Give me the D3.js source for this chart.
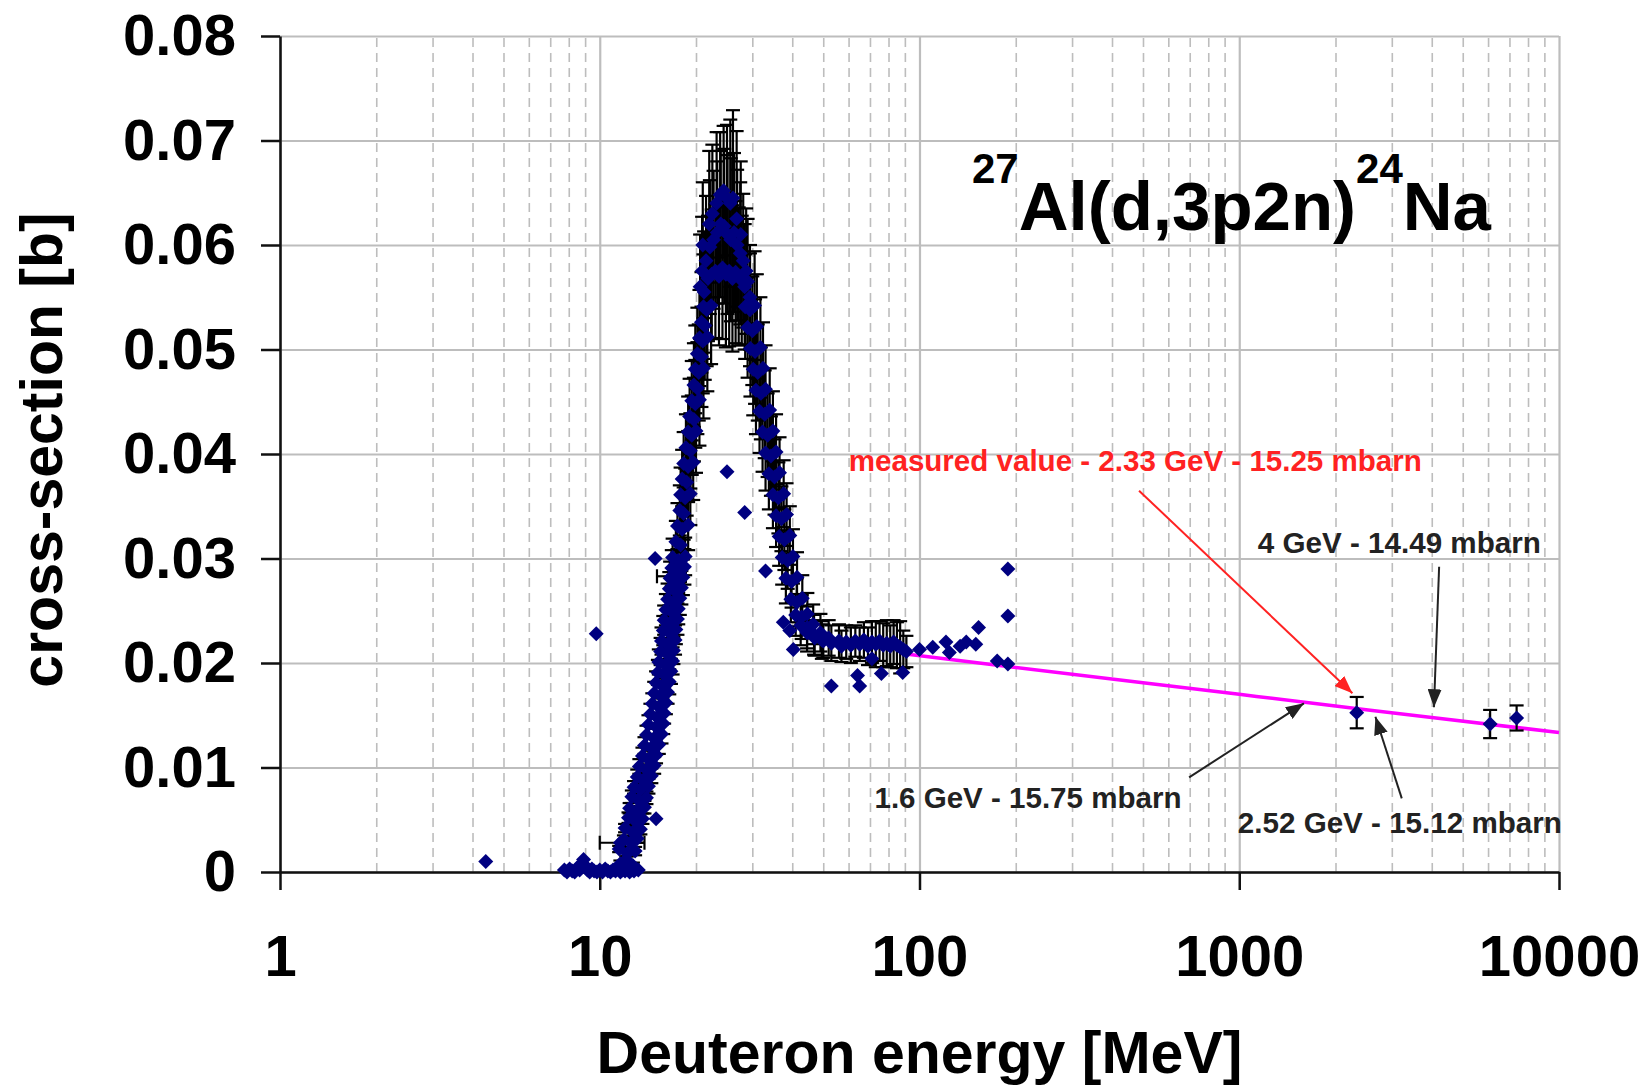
<!DOCTYPE html>
<html>
<head>
<meta charset="utf-8">
<script src="https://cdn.jsdelivr.net/npm/d3@7"></script>
<style>
  body { margin: 0; background: #fff; }
  svg { display: block; font-family: "Liberation Sans", Arial, sans-serif; }
</style>
</head>
<body>
<div id="chart"></div>
<script>
// tick labels
var xTicks = [1, 10, 100, 1000, 10000];
var yTicks = [0, 0.01, 0.02, 0.03, 0.04, 0.05, 0.06, 0.07, 0.08];

// measured points with vertical error: [energy MeV, cross-section b, error b]
var pointsErr = [
    [11.6, .0008, .0003], [12.1, .0012, .0003], [12.7, .0006, .0003],
    [11.5, .0022, .0003], [12.2, .0018, .0003], [12.9, .0020, .0004],
    [11.9, .0031, .0004], [12.5, .0028, .0004], [13.1, .0032, .0004],
    [12.0, .0042, .0004], [12.7, .0038, .0004], [13.4, .0041, .0005],
    [12.3, .0052, .0005], [12.9, .0049, .0005], [13.6, .0051, .0005],
    [12.4, .0061, .0005], [13.0, .0058, .0005], [13.8, .0062, .0006],
    [12.6, .0072, .0006], [13.2, .0069, .0006], [14.0, .0071, .0006],
    [12.8, .0081, .0006], [13.4, .0079, .0006], [14.2, .0082, .0007],
    [13.1, .0091, .0007], [13.7, .0088, .0007], [14.5, .0092, .0007],
    [13.3, .0101, .0007], [14.0, .0098, .0008], [14.8, .0102, .0008],
    [13.6, .0111, .0008], [14.2, .0108, .0008], [15.0, .0112, .0008],
    [13.8, .0121, .0008], [14.5, .0119, .0009], [15.3, .0122, .0009],
    [14.0, .0131, .0009], [14.8, .0128, .0009], [15.6, .0132, .0009],
    [14.2, .0141, .0009], [15.0, .0139, .0010], [15.8, .0142, .0010],
    [14.4, .0151, .0010], [15.1, .0148, .0010], [15.9, .0152, .0010],
    [14.6, .0161, .0010], [15.3, .0158, .0011], [16.1, .0162, .0011],
    [14.8, .0171, .0011], [15.5, .0169, .0011], [16.3, .0172, .0011],
    [15.0, .0181, .0011], [15.7, .0178, .0012], [16.5, .0182, .0012],
    [15.2, .0191, .0012], [15.9, .0189, .0012], [16.7, .0192, .0012],
    [15.3, .0201, .0012], [16.0, .0198, .0013], [16.9, .0202, .0013],
    [15.5, .0211, .0013], [16.2, .0209, .0013], [17.0, .0212, .0013],
    [15.6, .0221, .0013], [16.3, .0218, .0014], [17.2, .0222, .0014],
    [15.8, .0231, .0014], [16.5, .0229, .0014], [17.3, .0232, .0014],
    [15.9, .0241, .0014], [16.6, .0238, .0015], [17.5, .0242, .0015],
    [16.1, .0251, .0015], [16.8, .0249, .0015], [17.6, .0252, .0015],
    [16.3, .0261, .0015], [17.0, .0258, .0016], [17.8, .0262, .0016],
    [16.5, .0271, .0016], [17.2, .0269, .0016], [18.0, .0272, .0016],
    [16.6, .0281, .0016], [17.3, .0278, .0017], [18.2, .0282, .0017],
    [16.8, .0291, .0017], [17.5, .0289, .0017], [18.4, .0292, .0017],
    [16.9, .0301, .0018], [17.6, .0298, .0018], [18.5, .0302, .0018],
    [17.3, .0316, .0020], [17.9, .0313, .0020],
    [17.5, .0331, .0022], [18.1, .0328, .0022], [18.9, .0332, .0024],
    [17.8, .0346, .0024], [18.3, .0343, .0025],
    [17.9, .0361, .0026], [18.5, .0358, .0028], [19.2, .0362, .0030],
    [18.1, .0376, .0028], [18.7, .0373, .0032],
    [18.3, .0391, .0030], [18.9, .0388, .0034], [19.6, .0392, .0036],
    [18.6, .0406, .0032], [19.2, .0403, .0036],
    [18.9, .0421, .0034], [19.4, .0418, .0038], [20.0, .0422, .0040],
    [19.1, .0436, .0036], [19.7, .0433, .0040],
    [19.4, .0451, .0038], [19.9, .0448, .0042], [20.5, .0452, .0044],
    [19.7, .0466, .0040], [20.2, .0463, .0044],
    [19.9, .0481, .0042], [20.4, .0478, .0046], [21.1, .0482, .0048],
    [20.2, .0496, .0044], [20.8, .0493, .0048],
    [20.5, .0511, .0046], [21.0, .0508, .0050], [21.7, .0512, .0052],
    [20.8, .0526, .0048], [21.3, .0523, .0052],
    [21.1, .0541, .0050], [21.6, .0538, .0054], [22.3, .0542, .0056],
    // peak
    [20.6, .0560, .0050], [20.9, .0575, .0052], [21.0, .0600, .0060], [22.0, .0620, .0070],
    [21.2, .0555, .0058], [21.8, .0568, .0060], [22.4, .0572, .0062], [23.0, .0575, .0064],
    [23.6, .0570, .0066], [24.2, .0578, .0068], [24.8, .0572, .0070], [25.4, .0575, .0072],
    [26.0, .0568, .0070], [26.6, .0574, .0068], [27.2, .0570, .0066], [27.8, .0566, .0062],
    [28.4, .0560, .0060], [28.7, .0575, .0060], [29.0, .0565, .0060], [29.5, .0550, .0050],
    [21.5, .0585, .0062], [22.1, .0598, .0064], [22.7, .0605, .0066], [23.3, .0612, .0068],
    [23.9, .0620, .0070], [24.5, .0618, .0074], [25.1, .0610, .0076], [25.7, .0605, .0078],
    [26.3, .0612, .0076], [26.9, .0600, .0072], [27.5, .0592, .0068], [28.1, .0585, .0064],
    [27.6, .0610, .0070],
    [22.5, .0630, .0066], [23.2, .0640, .0068], [23.8, .0648, .0060], [24.4, .0652, .0062],
    [25.0, .0645, .0070], [25.6, .0640, .0080], [26.1, .0645, .0084], [26.8, .0625, .0084],
    // falling edge
    [28.5, .0541, .0050], [29.5, .0538, .0054], [30.5, .0542, .0052],
    [29.0, .0521, .0048], [30.0, .0518, .0052], [31.0, .0522, .0050],
    [29.6, .0501, .0046], [30.6, .0498, .0050], [31.8, .0502, .0048],
    [30.2, .0481, .0044], [31.2, .0478, .0046], [32.4, .0482, .0044],
    [30.8, .0461, .0042], [31.9, .0458, .0044], [33.0, .0462, .0042],
    [31.6, .0441, .0040], [32.8, .0438, .0042], [34.0, .0442, .0040],
    [32.3, .0421, .0038], [33.5, .0418, .0040], [34.8, .0422, .0038],
    [33.0, .0401, .0036], [34.3, .0398, .0038], [35.6, .0402, .0036],
    [33.8, .0381, .0034], [35.2, .0378, .0036], [36.5, .0382, .0034],
    [34.8, .0361, .0032], [36.2, .0358, .0034], [37.6, .0362, .0032],
    [35.6, .0341, .0030], [37.0, .0338, .0031], [38.4, .0342, .0030],
    [36.4, .0321, .0028], [37.8, .0318, .0029], [39.3, .0322, .0028],
    [37.2, .0301, .0026], [38.7, .0298, .0027], [40.2, .0302, .0026],
    [38.2, .0281, .0024], [39.8, .0278, .0025], [41.4, .0282, .0024],
    [39.6, .0261, .0022], [41.3, .0258, .0023], [43.0, .0262, .0022],
    [41.0, .0246, .0020], [42.8, .0244, .0021], [44.6, .0247, .0020],
    [42.5, .0236, .0019], [44.5, .0234, .0020], [46.5, .0237, .0019],
    [44.5, .0229, .0018], [46.8, .0227, .0019], [49.0, .0229, .0018],
    [47.0, .0224, .0017], [49.5, .0222, .0018], [52.0, .0224, .0017],
    [50, .0221, .0016], [53, .0219, .0017], [56, .0221, .0016],
    // plateau
    [57, .0216, .0015], [59, .0220, .0016], [61, .0217, .0017], [63, .0221, .0015],
    [65, .0218, .0016], [67, .0222, .0017], [69, .0216, .0018], [71, .0220, .0020],
    [73, .0218, .0022], [75, .0221, .0019], [77, .0217, .0021], [79, .0219, .0022],
    [81, .0216, .0020], [83, .0220, .0021], [85, .0217, .0022], [87, .0215, .0025],
    [89, .0213, .0018], [91, .0211, .0015],
    // GeV region
    [2330, .01525, .0015], [6090, .01416, .00135], [7370, .01474, .0012]
];

// points drawn without error bars: [energy MeV, cross-section b]
var pointsPlain = [
    [4.4, .0010], [9.75, .0228], [14.9, .0300], [15.0, .0051], [25.0, .0383], [28.4, .0344],
    [33, .0288], [37.5, .0239], [39.3, .0231], [40.3, .0213], [53, .0178], [64, .0188],
    [65, .0178], [71, .0204], [76, .0190], [88.6, .0191], [100, .0213], [110, .0215],
    [121, .0220], [124, .0210], [134, .0216], [140, .0220], [150, .0218], [153, .0234],
    [175, .0202], [189, .0199], [189, .0245], [189, .0290],
    [7.75, .0002], [7.9, 0], [8.05, .0003], [8.2, .0001], [8.35, 0], [8.5, .0004],
    [8.65, .0002], [8.8, .0008], [8.9, .0012], [9.0, .0006], [9.15, .0002], [9.3, 0],
    [9.45, .0003], [9.6, .0001], [9.8, 0], [10.0, .0002], [10.2, 0], [10.4, .0003],
    [10.6, .0001], [10.8, 0], [11.0, .0002], [11.2, .0001], [11.4, .0003], [11.6, 0],
    [11.8, .0002], [12.0, .0001], [12.2, .0003], [12.4, 0], [12.6, .0002], [12.8, .0001],
    [13.0, .0003], [13.2, .0002]
];

// points with horizontal error: [energy, cross-section, energy low, energy high]
var pointsXErr = [
    [11.6, .0028, 10.0, 13.8],
    [16.8, .0283, 15.1, 18.6]
];

// systematics line
var fitEnergy = [88, 200, 500, 1000, 2000, 4000, 10000];
var fitSigma = [0.0209, 0.01958, 0.01811, 0.0170, 0.01589, 0.01478, 0.01335];

// annotations: text, colour, text anchor point [E, sigma], arrow tail, arrow tip
var noteText = ["measured value - 2.33 GeV - 15.25 mbarn", "4 GeV - 14.49 mbarn",
    "1.6 GeV - 15.75 mbarn", "2.52 GeV - 15.12 mbarn"];
var noteColor = ["#ff2222", "#222222", "#222222", "#222222"];
var noteAt = [[60.1, .03837], [1143, .03053], [72.3, .00612], [990, .00373]];
var noteWidth = [573, 283, 307, 324];
var arrowFrom = [[486, .03649], [4218, .02921], [697, .00906], [3223, .00705]];
var arrowTo = [[2259, .0171], [4064, .01576], [1593, .01614], [2666, .01486]];

var W = 1647, H = 1085;
var plotLeft = 280, plotRight = 1559, plotTop = 36, plotBottom = 872;

var x = d3.scaleLog().domain([1, 10000]).range([plotLeft, plotRight]);
var y = d3.scaleLinear().domain([0, 0.08]).range([plotBottom, plotTop]);

var svg = d3.select("#chart").append("svg")
    .attr("width", W)
    .attr("height", H);

// minor dashed verticals
var minorTicks = x.ticks().filter(function (d) { return xTicks.indexOf(d) < 0; });
var gMinor = svg.append("g")
    .attr("transform", "translate(0," + plotBottom + ")")
    .call(d3.axisBottom(x).tickValues(minorTicks).tickSize(-(plotBottom - plotTop)).tickFormat(""));
gMinor.select(".domain").remove();
gMinor.selectAll("line")
    .attr("stroke", "#bdbdbd")
    .attr("stroke-width", 1.6)
    .attr("stroke-dasharray", "9,6");

// major verticals
var gMajorX = svg.append("g")
    .attr("transform", "translate(0," + plotBottom + ")")
    .call(d3.axisBottom(x).tickValues(xTicks).tickSize(-(plotBottom - plotTop)).tickFormat(""));
gMajorX.select(".domain").remove();
gMajorX.selectAll("line").attr("stroke", "#bdbdbd").attr("stroke-width", 2.2);

// horizontal grid
var gMajorY = svg.append("g")
    .attr("transform", "translate(" + plotLeft + ",0)")
    .call(d3.axisLeft(y).tickValues(yTicks).tickSize(-(plotRight - plotLeft)).tickFormat(""));
gMajorY.select(".domain").remove();
gMajorY.selectAll("line").attr("stroke", "#bdbdbd").attr("stroke-width", 2.2);

// axes
var yAxis = svg.append("g")
    .attr("transform", "translate(" + plotLeft + ",0)")
    .call(d3.axisLeft(y).tickValues(yTicks).tickSize(19).tickSizeOuter(0).tickPadding(25)
        .tickFormat(function (d) { return d === 0 ? "0" : d.toFixed(2); }));

var xAxis = svg.append("g")
    .attr("transform", "translate(0," + plotBottom + ")")
    .call(d3.axisBottom(x).tickValues(xTicks).tickSize(18).tickSizeOuter(0).tickPadding(45)
        .tickFormat(d3.format("d")));

yAxis.select(".domain").attr("stroke", "#111").attr("stroke-width", 2.5);
xAxis.select(".domain").attr("stroke", "#111").attr("stroke-width", 2.5);
yAxis.selectAll(".tick line").attr("stroke", "#111").attr("stroke-width", 2.5);
xAxis.selectAll(".tick line").attr("stroke", "#111").attr("stroke-width", 2.5);
svg.selectAll(".tick text")
    .attr("font-family", "Liberation Sans, Arial, sans-serif")
    .attr("font-size", 58)
    .attr("font-weight", "bold")
    .attr("fill", "#000");

// axis titles
svg.append("text")
    .attr("transform", "translate(62," + ((plotTop + plotBottom) / 2 - 4) + ") rotate(-90)")
    .attr("text-anchor", "middle")
    .attr("font-size", 59)
    .attr("font-weight", "bold")
    .text("cross-section [b]");

svg.append("text")
    .attr("x", (plotLeft + plotRight) / 2)
    .attr("y", 1073)
    .attr("text-anchor", "middle")
    .attr("font-size", 59)
    .attr("font-weight", "bold")
    .text("Deuteron energy [MeV]");

// reaction title
var title = svg.append("text")
    .attr("x", 972)
    .attr("y", 230)
    .attr("font-weight", "bold")
    .attr("font-size", 69);
title.append("tspan").attr("font-size", 42).attr("dy", -47).text("27");
title.append("tspan").attr("dy", 47).text("Al(d,3p2n)");
title.append("tspan").attr("font-size", 42).attr("dy", -47).text("24");
title.append("tspan").attr("dy", 47).text("Na");

// systematics line
var fit = d3.zip(fitEnergy, fitSigma);
svg.append("path")
    .datum(fit)
    .attr("fill", "none")
    .attr("stroke", "#ff00ff")
    .attr("stroke-width", 3.5)
    .attr("d", d3.line()
        .x(function (d) { return x(d[0]); })
        .y(function (d) { return y(d[1]); })
        .curve(d3.curveMonotoneX));

// error bars
var cap = 7;
var eb = svg.append("g").attr("stroke", "#000").attr("stroke-width", 2.2);
pointsErr.forEach(function (d) {
    var cx = x(d[0]), y0 = y(d[1] - d[2]), y1 = y(d[1] + d[2]);
    eb.append("line").attr("x1", cx).attr("x2", cx).attr("y1", y0).attr("y2", y1);
    eb.append("line").attr("x1", cx - cap).attr("x2", cx + cap).attr("y1", y0).attr("y2", y0);
    eb.append("line").attr("x1", cx - cap).attr("x2", cx + cap).attr("y1", y1).attr("y2", y1);
});
pointsXErr.forEach(function (d) {
    var cy = y(d[1]), x0 = x(d[2]), x1 = x(d[3]);
    eb.append("line").attr("x1", x0).attr("x2", x1).attr("y1", cy).attr("y2", cy);
    eb.append("line").attr("x1", x0).attr("x2", x0).attr("y1", cy - cap).attr("y2", cy + cap);
    eb.append("line").attr("x1", x1).attr("x2", x1).attr("y1", cy - cap).attr("y2", cy + cap);
});

// diamonds
var diamond = d3.symbol().type(d3.symbolSquare).size(112);
var allPoints = pointsErr.concat(pointsPlain, pointsXErr);
svg.append("g").selectAll("path")
    .data(allPoints)
    .enter()
    .append("path")
    .attr("d", diamond)
    .attr("fill", "#000080")
    .attr("transform", function (d) {
        return "translate(" + x(d[0]) + "," + y(d[1]) + ") rotate(45)";
    });

// arrows
var defs = svg.append("defs");
noteColor.forEach(function (c, i) {
    defs.append("marker")
        .attr("id", "head" + i)
        .attr("markerUnits", "userSpaceOnUse")
        .attr("viewBox", "0 -7 18 14")
        .attr("refX", 18)
        .attr("refY", 0)
        .attr("markerWidth", 18)
        .attr("markerHeight", 14)
        .attr("orient", "auto")
        .append("path")
        .attr("d", "M0,-7L18,0L0,7Z")
        .attr("fill", c);
});

noteText.forEach(function (t, i) {
    svg.append("line")
        .attr("x1", x(arrowFrom[i][0]))
        .attr("y1", y(arrowFrom[i][1]))
        .attr("x2", x(arrowTo[i][0]))
        .attr("y2", y(arrowTo[i][1]))
        .attr("stroke", noteColor[i])
        .attr("stroke-width", 2)
        .attr("marker-end", "url(#head" + i + ")");

    svg.append("text")
        .attr("x", x(noteAt[i][0]))
        .attr("y", y(noteAt[i][1]))
        .attr("font-size", 29)
        .attr("font-weight", "bold")
        .attr("fill", noteColor[i])
        .attr("textLength", noteWidth[i])
        .attr("lengthAdjust", "spacingAndGlyphs")
        .text(t);
});
</script>
</body>
</html>
